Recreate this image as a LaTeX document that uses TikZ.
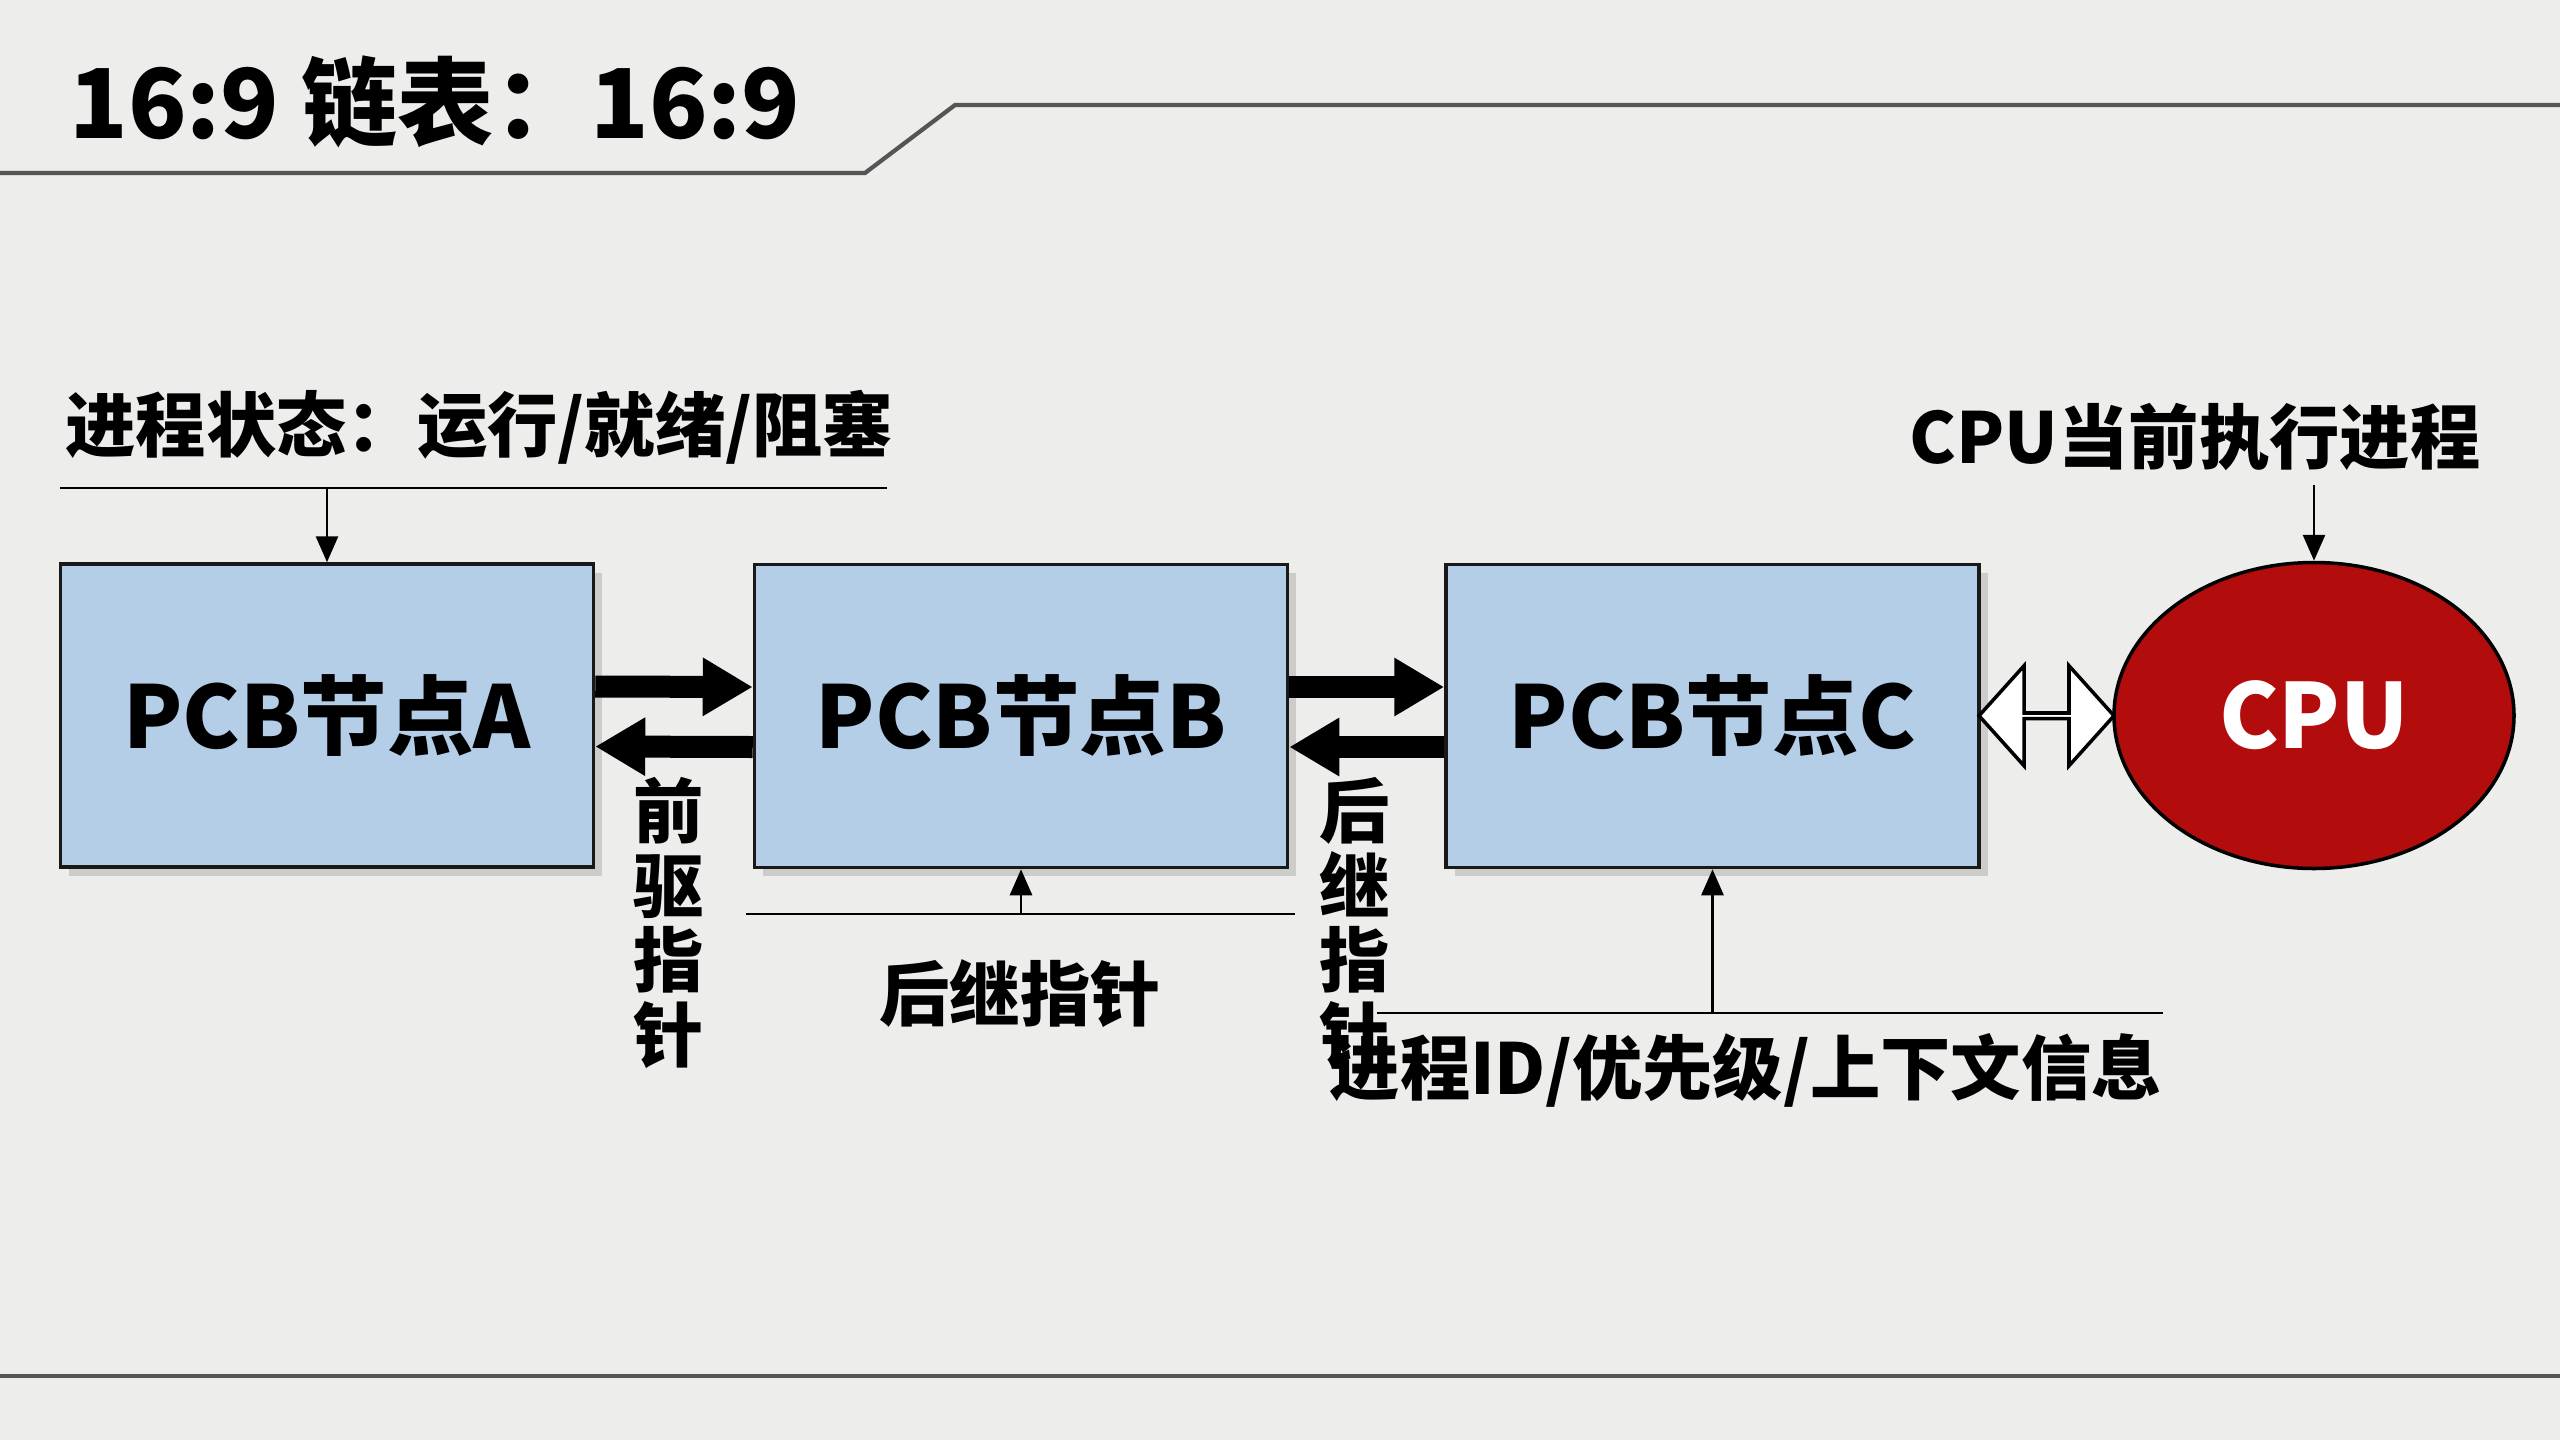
\documentclass[tikz,border=0pt]{standalone}
\usepackage{fontspec}
\setmainfont{Noto Sans CJK SC}
\usetikzlibrary{arrows.meta,calc,shapes.geometric,shapes.arrows,shadows}
\definecolor{paper}{RGB}{237,237,235}
\definecolor{pcbfill}{RGB}{181,206,232}
\definecolor{cpured}{RGB}{178,12,12}
\definecolor{rulegray}{RGB}{85,85,85}

\begin{document}
\begin{tikzpicture}[
  x=1cm,y=-1cm,
  pcb/.style={draw=black!90,line width=1pt,fill=pcbfill,minimum width=5.33cm,minimum height=3.03cm,inner sep=0pt,font=\fontsize{24.6}{28}\selectfont\bfseries,drop shadow={opacity=.3,shadow xshift=2.5pt,shadow yshift=-2.5pt}},
  cpunode/.style={ellipse,draw=black,line width=1pt,fill=cpured,text=white,minimum width=4cm,minimum height=3.06cm,inner sep=0pt,font=\fontsize{25.5}{30}\selectfont\bfseries},
  lbl/.style={inner sep=0pt,font=\fontsize{20}{24}\selectfont\bfseries},
  vlbl/.style={inner sep=0pt,align=center,font=\fontsize{20}{21.3}\selectfont\bfseries},
  fat/.style={line width=.22cm,-{Triangle[length=.5cm,width=.55cm]}},
  arr/.style={line width=.8pt,-{Triangle[length=.26cm,width=.22cm]}},
  rule/.style={line width=.8pt},
  frame/.style={rulegray,line width=1.2pt},
  dbl/.style={double arrow,draw=black,line width=1pt,fill=white,minimum height=1.35cm,minimum width=1cm,double arrow head extend=.3cm,double arrow tip angle=96,inner sep=0pt}
]
\useasboundingbox (0,0) rectangle (25.6,14.4);
\fill[paper] (0,0) rectangle (25.6,14.4);

% title and frame lines
\node[anchor=base west,inner sep=0pt,font=\fontsize{27.4}{33}\selectfont\bfseries] (title) at (0.69,1.38) {16:9 链表：16:9};
\draw[frame] (0,1.73) -- (8.65,1.73) -- (9.55,1.05) -- (25.6,1.05);
\draw[frame] (0,13.76) -- (25.6,13.76);

% PCB list and CPU
\node[pcb] (pcbA) at (3.27,7.155) {PCB节点A};
\node[pcb] (pcbB) at (10.21,7.16) {PCB节点B};
\node[pcb] (pcbC) at (17.125,7.16) {PCB节点C};
\node[cpunode] (cpu) at (23.14,7.155) {CPU};

\foreach \u/\v in {pcbA/pcbB,pcbB/pcbC}{
  \draw[fat] ([yshift=.29cm]\u.east) -- ([yshift=.29cm]\v.west);
  \draw[fat] ([yshift=-.31cm]\v.west) -- ([yshift=-.31cm]\u.east);
}
\node[dbl] (link) at ($(pcbC.east)!.5!(cpu.west)$) {};

% state label
\node[lbl,anchor=west] (stat) at (0.65,4.27) {进程状态：运行/就绪/阻塞};
\coordinate (statL) at (0.60,4.88);
\coordinate (statR) at (8.87,4.88);
\draw[rule] (statL) -- (statR);
\draw[arr] (statL -| pcbA.north) -- (pcbA.north);

% cpu label
\node[lbl] (cpulbl) at (21.95,4.37) {CPU当前执行进程};
\coordinate (cpuin) at (23.14,4.85);
\draw[arr] (cpuin) -- (cpu.north);

% pointer labels
\node[vlbl] (prevv) at (6.69,9.23) {前\\驱\\指\\针};
\node[vlbl] (nextv) at (13.55,9.23) {后\\继\\指\\针};

\coordinate (barBL) at (7.46,9.14);
\coordinate (barBR) at (12.95,9.14);
\draw[rule] (barBL) -- (barBR);
\draw[arr] (barBL -| pcbB.south) -- (pcbB.south);
\node[lbl] (nextlbl) at (10.20,9.94) {后继指针};

\coordinate (barCL) at (13.77,10.13);
\coordinate (barCR) at (21.63,10.13);
\draw[rule] (barCL) -- (barCR);
\draw[arr] (barCL -| pcbC.south) -- (pcbC.south);
\node[lbl,anchor=west] (info) at (13.29,10.70) {进程ID/优先级/上下文信息};
\end{tikzpicture}
\end{document}
